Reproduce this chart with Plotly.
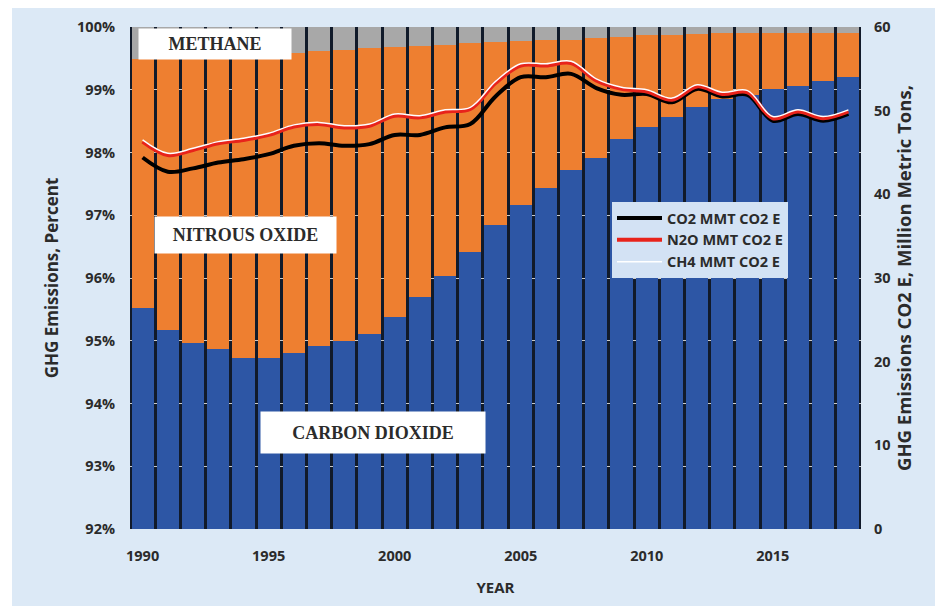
import plotly.graph_objects as go

years = list(range(1990, 2019))

# Share of total GHG emissions (percent)
co2_share = [95.52, 95.17, 94.97, 94.87, 94.73, 94.73, 94.81, 94.92, 95.00, 95.11,
             95.38, 95.70, 96.03, 96.41, 96.84, 97.16, 97.43, 97.72, 97.92, 98.21,
             98.40, 98.57, 98.72, 98.86, 98.92, 99.01, 99.06, 99.14, 99.20]
n2o_share = [3.97, 4.33, 4.54, 4.65, 4.81, 4.83, 4.77, 4.69, 4.63, 4.55,
             4.30, 4.00, 3.69, 3.33, 2.92, 2.62, 2.36, 2.08, 1.91, 1.63,
             1.47, 1.31, 1.17, 1.04, 0.98, 0.89, 0.84, 0.76, 0.70]
ch4_share = [0.51, 0.50, 0.49, 0.48, 0.46, 0.44, 0.42, 0.39, 0.37, 0.34,
             0.32, 0.30, 0.28, 0.26, 0.24, 0.22, 0.21, 0.20, 0.17, 0.16,
             0.13, 0.12, 0.11, 0.10, 0.10, 0.10, 0.10, 0.10, 0.10]

# Emissions, million metric tons CO2 equivalent (lines)
co2_mmt = [44.4, 42.7, 43.1, 43.8, 44.2, 44.8, 45.8, 46.1, 45.8, 46.0,
           47.1, 47.1, 48.0, 48.4, 51.7, 54.0, 54.0, 54.4, 52.7, 51.9,
           52.0, 51.0, 52.6, 51.7, 51.9, 48.8, 49.6, 48.8, 49.6]
n2o_mmt = [46.3, 44.7, 45.3, 46.1, 46.5, 47.1, 48.1, 48.4, 48.0, 48.2,
           49.4, 49.2, 49.9, 50.2, 53.3, 55.4, 55.4, 55.7, 53.6, 52.6,
           52.3, 51.3, 52.9, 52.0, 52.2, 49.1, 49.9, 49.1, 49.9]
ch4_mmt = [46.5, 44.9, 45.5, 46.3, 46.7, 47.3, 48.3, 48.6, 48.2, 48.4,
           49.6, 49.4, 50.1, 50.4, 53.5, 55.6, 55.6, 55.9, 53.8, 52.8,
           52.5, 51.5, 53.1, 52.2, 52.4, 49.3, 50.1, 49.3, 50.1]

BLUE = "#2d56a5"
ORANGE = "#ee7f30"
GRAY = "#a8a8a8"
TXT = "#2b2b2b"

# page body has an 8px margin, so the figure is 8px smaller than the window
W, H = 935, 598
L, R, T, B = 122, 82, 19, 77
PW, PH = W - L - R, H - T - B

fig = go.Figure()
fig.add_trace(go.Bar(x=years, y=co2_share, marker=dict(color=BLUE, line_width=0),
                     showlegend=False, hoverinfo="skip"))
fig.add_trace(go.Bar(x=years, y=n2o_share, marker=dict(color=ORANGE, line_width=0),
                     showlegend=False, hoverinfo="skip"))
fig.add_trace(go.Bar(x=years, y=ch4_share, marker=dict(color=GRAY, line_width=0),
                     showlegend=False, hoverinfo="skip"))

fig.add_trace(go.Scatter(x=years, y=co2_mmt, yaxis="y2", mode="lines",
                         line=dict(color="#000000", width=4, shape="spline"),
                         name="CO2 MMT CO2 E"))
fig.add_trace(go.Scatter(x=years, y=n2o_mmt, yaxis="y2", mode="lines",
                         line=dict(color="#e8231b", width=4, shape="spline"),
                         name="N2O MMT CO2 E"))
fig.add_trace(go.Scatter(x=years, y=ch4_mmt, yaxis="y2", mode="lines",
                         line=dict(color="#ffffff", width=1.5, shape="spline"),
                         name="CH4 MMT CO2 E"))

tickfont = dict(family="Open Sans", size=14.5, color=TXT, weight="bold")

fig.update_layout(
    width=W, height=H,
    margin=dict(l=L, r=R, t=T, b=B),
    paper_bgcolor="#dce9f6",
    plot_bgcolor="#111a2a",
    barmode="stack",
    bargap=0.12,
    xaxis=dict(range=[1989.5, 2018.5], tickvals=[1990, 1995, 2000, 2005, 2010, 2015],
               showgrid=False, zeroline=False, tickfont=tickfont, ticks="",
               ticklabelstandoff=16, automargin=False,
               title=dict(text="YEAR", font=dict(family="Open Sans", size=15, color=TXT, weight="bold"),
                          standoff=18)),
    yaxis=dict(range=[92, 100], dtick=1, ticksuffix="%", tickfont=tickfont,
               showgrid=True, gridcolor="#c9c9c9", gridwidth=1, zeroline=False,
               ticklabelstandoff=14, automargin=False,
               title=dict(text="GHG Emissions, Percent",
                          font=dict(family="Open Sans", size=17, color=TXT, weight="bold"),
                          standoff=14)),
    yaxis2=dict(range=[0, 60], dtick=10, overlaying="y", side="right",
                tickfont=tickfont, showgrid=False, zeroline=False,
                ticklabelstandoff=12, automargin=False,
                title=dict(text="GHG Emissions CO2 E, Million Metric Tons,",
                           font=dict(family="Open Sans", size=18.5, color=TXT, weight="bold"),
                           standoff=8)),
    legend=dict(x=(604 - L) / PW, y=1 - (194 - T) / PH, xanchor="left", yanchor="top",
                bgcolor="#d3e2f4", borderwidth=0, traceorder="normal",
                font=dict(family="Open Sans", size=14.5, color=TXT, weight="bold"),
                tracegroupgap=0, itemwidth=45),
    showlegend=True,
)

# extra white strip at the left edge of the image
fig.add_shape(type="rect", xref="paper", yref="paper",
              x0=-L / PW, x1=(4 - L) / PW, y0=-B / PH, y1=1 + T / PH,
              fillcolor="#ffffff", line_width=0, layer="below")

labfont = dict(family="Liberation Serif", size=18, color=TXT, weight="bold")
labels = [
    ("METHANE", 1992.86, 99.73, 152, 30),
    ("NITROUS OXIDE", 1994.07, 96.69, 181, 36),
    ("CARBON DIOXIDE", 1999.13, 93.53, 224, 41),
]
for text, xx, yy, w, h in labels:
    fig.add_annotation(x=xx, y=yy, xref="x", yref="y", text=text, showarrow=False,
                       bgcolor="#ffffff", width=w, height=h, font=labfont,
                       align="center", valign="middle", borderpad=0)

fig.write_html("out.html")
